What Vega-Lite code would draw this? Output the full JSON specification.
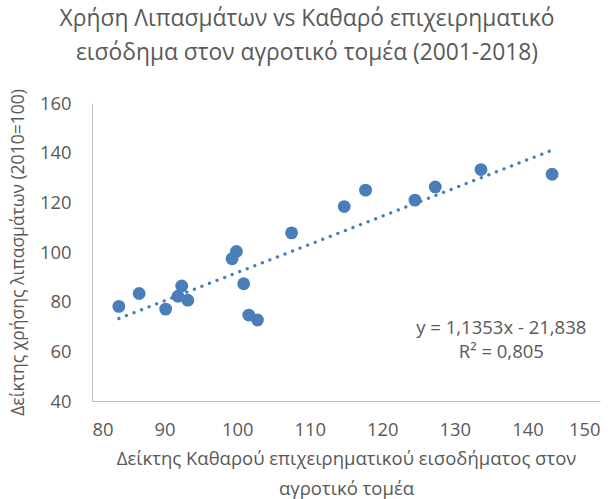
{
  "$schema": "https://vega.github.io/schema/vega-lite/v6.json",
  "width": 508,
  "height": 298,
  "autosize": {"type": "none"},
  "padding": {"left": 92, "top": 103, "right": 16, "bottom": 98},
  "background": "white",
  "config": {"font": "Open Sans", "view": {"stroke": null}},
  "title": {
    "text": ["Χρήση Λιπασμάτων vs Καθαρό επιχειρηματικό", "εισόδημα στον αγροτικό τομέα (2001-2018)"],
    "fontSize": 22.8,
    "fontWeight": "normal",
    "color": "#595959",
    "lineHeight": 34,
    "anchor": "middle",
    "frame": "group",
    "dx": -39,
    "offset": 24
  },
  "layer": [
    {
      "data": {"values": [
        {"income": 83.7, "fert": 78.1, "year": 2001},
        {"income": 86.5, "fert": 83.3, "year": 2002},
        {"income": 90.15, "fert": 77.0, "year": 2003},
        {"income": 91.85, "fert": 82.2, "year": 2004},
        {"income": 92.36, "fert": 86.3, "year": 2005},
        {"income": 93.2, "fert": 80.6, "year": 2006},
        {"income": 99.3, "fert": 97.3, "year": 2007},
        {"income": 99.9, "fert": 100.2, "year": 2008},
        {"income": 100.9, "fert": 87.2, "year": 2009},
        {"income": 101.6, "fert": 74.6, "year": 2010},
        {"income": 102.8, "fert": 72.6, "year": 2011},
        {"income": 107.5, "fert": 107.7, "year": 2012},
        {"income": 114.75, "fert": 118.3, "year": 2013},
        {"income": 117.7, "fert": 124.9, "year": 2014},
        {"income": 124.5, "fert": 120.9, "year": 2015},
        {"income": 127.3, "fert": 126.2, "year": 2016},
        {"income": 133.6, "fert": 133.2, "year": 2017},
        {"income": 143.4, "fert": 131.3, "year": 2018}
      ]},
      "mark": {"type": "circle", "size": 165, "opacity": 1, "color": "#4A7EBB"},
      "encoding": {
        "x": {
          "field": "income", "type": "quantitative",
          "scale": {"domain": [80, 150], "nice": false, "zero": false},
          "axis": {
            "values": [80, 90, 100, 110, 120, 130, 140, 150],
            "grid": false, "ticks": false,
            "domainColor": "#BFBFBF", "domainWidth": 1,
            "labelColor": "#595959", "labelFontSize": 18.4, "labelPadding": 19,
            "title": ["Δείκτης Καθαρού επιχειρηματικού εισοδήματος στον", "αγροτικό τομέα"],
            "titleFontSize": 18.5, "titleFontWeight": "normal", "titleColor": "#595959",
            "titlePadding": 11, "titleLineHeight": 30
          }
        },
        "y": {
          "field": "fert", "type": "quantitative",
          "scale": {"domain": [40, 160], "nice": false, "zero": false},
          "axis": {
            "values": [40, 60, 80, 100, 120, 140, 160],
            "grid": false, "ticks": false,
            "domainColor": "#BFBFBF", "domainWidth": 1,
            "labelColor": "#595959", "labelFontSize": 18.4, "labelPadding": 21,
            "title": "Δείκτης χρήσης λιπασμάτων (2010=100)",
            "titleFontSize": 17.5, "titleFontWeight": "normal", "titleColor": "#595959",
            "titlePadding": 12
          }
        }
      }
    },
    {
      "data": {"values": [
        {"income": 83.7, "fert": 73.2},
        {"income": 143.4, "fert": 141.0}
      ]},
      "mark": {"type": "line", "color": "#4A7EBB", "strokeWidth": 3.3, "strokeDash": [0.1, 8], "strokeCap": "round"},
      "encoding": {
        "x": {"field": "income", "type": "quantitative"},
        "y": {"field": "fert", "type": "quantitative"}
      }
    },
    {
      "data": {"values": [
        {"income": 136.4, "fert": 69.3, "label": "y = 1,1353x - 21,838"},
        {"income": 136.4, "fert": 59.9, "label": "R² = 0,805"}
      ]},
      "mark": {"type": "text", "fontSize": 18.5, "color": "#595959", "align": "center", "baseline": "middle"},
      "encoding": {
        "x": {"field": "income", "type": "quantitative"},
        "y": {"field": "fert", "type": "quantitative"},
        "text": {"field": "label"}
      }
    }
  ]
}
